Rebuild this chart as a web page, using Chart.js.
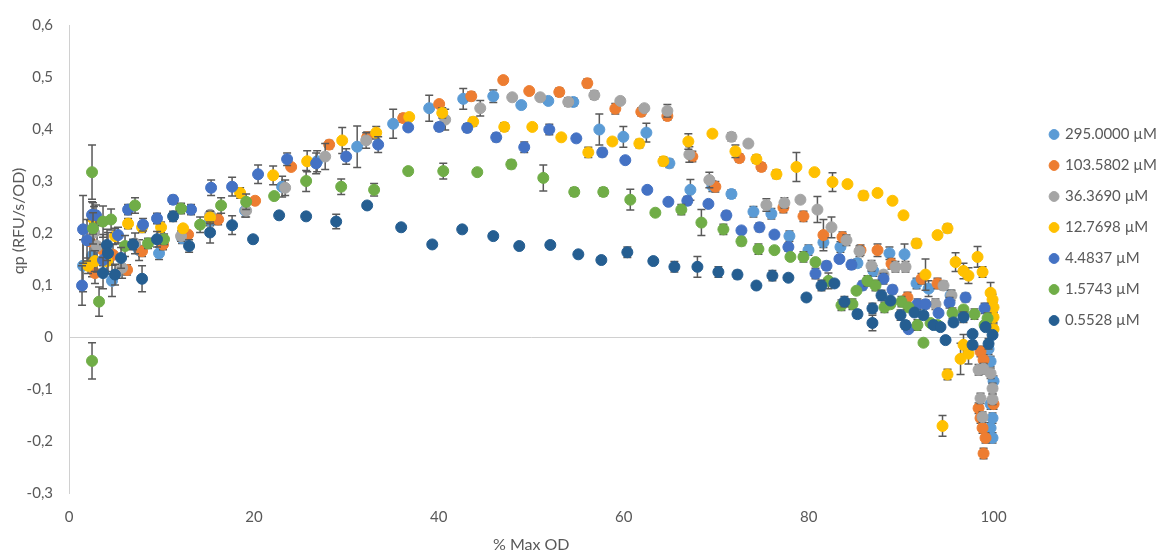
<!DOCTYPE html>
<html>
<head>
<meta charset="utf-8">
<script src="https://cdn.jsdelivr.net/npm/chart.js@4.4.1/dist/chart.umd.min.js"></script>
<style>
  html, body { margin: 0; padding: 0; background: #ffffff; }
</style>
</head>
<body>
<canvas id="mychart" width="1164" height="554"></canvas>
<script>
// each point: [% max OD, qp, error]
const s295 = [[1.52,0.137,0.05],[2.49,0.156,0.04],[4.65,0.108,0.03],[7.58,0.167,0.02],[9.74,0.161,0.012],[12.23,0.190,0.01],[15.26,0.224,0.01],[19.05,0.243,0.012],[23.05,0.289,0.02],[26.84,0.338,0.02],[31.17,0.366,0.04],[35.06,0.410,0.028],[38.96,0.440,0.025],[42.64,0.458,0.02],[45.89,0.463,0.012],[48.92,0.446,0],[51.84,0.454,0],[54.55,0.452,0.008],[57.36,0.399,0.03],[59.96,0.385,0.02],[62.45,0.393,0.018],[64.94,0.334,0.008],[67.21,0.283,0.02],[69.59,0.290,0.01],[71.65,0.275,0.008],[74.03,0.241,0.01],[75.97,0.237,0.01],[77.92,0.194,0.01],[79.98,0.167,0.01],[81.6,0.182,0.01],[83.44,0.173,0.01],[85.28,0.142,0.008],[87.01,0.127,0.01],[88.74,0.161,0.012],[90.37,0.159,0.02],[91.67,0.103,0.01],[92.97,0.093,0.015],[95.35,0.080,0.01],[99.46,-0.023,0.01],[99.68,-0.047,0.01],[100,-0.085,0.01],[99.68,-0.129,0.01],[99.89,-0.156,0.01],[99.68,-0.175,0.01],[99.89,-0.194,0.01]];
const s103 = [[2.27,0.184,0.04],[2.81,0.123,0.02],[3.68,0.167,0.03],[4.76,0.158,0.02],[6.28,0.129,0.01],[7.90,0.165,0.01],[10.17,0.178,0.01],[12.88,0.197,0],[16.13,0.226,0.01],[20.13,0.262,0],[24.03,0.327,0],[28.14,0.370,0.008],[32.25,0.384,0.01],[36.15,0.421,0.008],[40.04,0.448,0],[43.51,0.463,0.008],[46.97,0.494,0.005],[49.78,0.473,0],[53.03,0.471,0.008],[56.06,0.488,0.008],[59.09,0.439,0.01],[61.9,0.433,0.008],[64.72,0.425,0.008],[67.42,0.347,0.01],[69.91,0.289,0.01],[72.51,0.344,0.008],[74.89,0.327,0.008],[77.27,0.249,0.01],[79.44,0.232,0.01],[81.6,0.196,0.03],[83.66,0.192,0.01],[85.61,0.167,0.01],[87.45,0.167,0.012],[88.96,0.141,0.01],[90.69,0.076,0.01],[92.21,0.112,0.01],[93.94,0.103,0.01],[98.59,-0.028,0.01],[98.92,-0.044,0.01],[98.38,-0.137,0.01],[98.59,-0.156,0.01],[98.81,-0.175,0.01],[99.13,-0.194,0.01],[100,-0.129,0.01],[98.92,-0.224,0.01]];
const s36 = [[2.71,0.201,0.05],[3.03,0.175,0.05],[5.74,0.133,0.02],[7.14,0.180,0.02],[12.12,0.194,0.01],[15.26,0.235,0.008],[19.16,0.243,0.012],[23.38,0.287,0.015],[27.71,0.347,0.025],[32.14,0.378,0.015],[40.69,0.418,0.02],[44.48,0.440,0.015],[47.94,0.461,0],[50.97,0.461,0],[54.0,0.452,0.008],[56.82,0.465,0.008],[59.63,0.454,0],[62.23,0.440,0],[64.72,0.435,0.012],[67.1,0.351,0.015],[69.26,0.302,0.015],[71.65,0.385,0.008],[73.48,0.372,0.005],[75.43,0.254,0.012],[77.38,0.258,0.01],[79.11,0.264,0],[80.95,0.245,0.025],[82.47,0.211,0.02],[84.09,0.186,0.01],[85.5,0.165,0.01],[86.8,0.137,0.01],[88.1,0.120,0],[89.39,0.135,0.01],[90.48,0.135,0.01],[93.72,0.063,0.01],[94.59,0.099,0.008],[95.45,0.080,0.01],[98.38,-0.063,0.01],[98.92,-0.061,0.01],[99.68,-0.070,0.01],[99.89,-0.099,0.01],[98.59,-0.118,0.01],[99.89,-0.120,0.01],[98.81,-0.154,0.01]];
const s12 = [[2.06,0.137,0.015],[2.60,0.228,0.03],[2.81,0.146,0.02],[4.11,0.146,0.02],[4.98,0.194,0.015],[6.39,0.218,0.01],[7.90,0.211,0.01],[9.96,0.211,0.01],[12.34,0.209,0],[15.26,0.230,0.012],[18.51,0.277,0.01],[22.08,0.311,0.018],[25.76,0.338,0.02],[29.55,0.378,0.025],[33.23,0.393,0.012],[36.80,0.423,0.005],[40.37,0.431,0.01],[43.72,0.414,0.008],[47.08,0.404,0.008],[50.11,0.404,0],[53.25,0.384,0],[56.17,0.355,0.01],[58.77,0.376,0],[61.69,0.372,0.008],[64.29,0.338,0.008],[66.99,0.376,0.015],[69.59,0.391,0],[72.08,0.357,0.012],[74.35,0.342,0.008],[76.52,0.313,0.008],[78.68,0.327,0.028],[80.63,0.317,0],[82.58,0.298,0.018],[84.2,0.294,0],[85.93,0.272,0.008],[87.45,0.277,0],[89.07,0.262,0],[90.26,0.234,0.005],[91.67,0.180,0.008],[92.64,0.120,0.03],[93.94,0.196,0.005],[95.02,0.209,0.008],[95.89,0.144,0.018],[96.75,0.127,0.015],[97.29,0.118,0.015],[98.27,0.154,0.02],[98.81,0.125,0.01],[99.68,0.085,0.02],[99.89,0.072,0.01],[100,0.057,0.01],[100,0.038,0.01],[100,0.015,0.01],[96.75,-0.015,0.02],[97.29,-0.032,0.02],[96.43,-0.042,0.03],[95.02,-0.072,0.01],[94.48,-0.171,0.02]];
const s4 = [[1.41,0.099,0.038],[1.52,0.207,0.065],[1.95,0.186,0.04],[2.49,0.235,0.025],[2.92,0.234,0.02],[3.68,0.148,0.03],[5.30,0.196,0.015],[6.39,0.245,0.01],[8.01,0.216,0.012],[9.52,0.228,0.01],[11.26,0.264,0.008],[13.2,0.245,0.01],[15.37,0.287,0.015],[17.64,0.289,0.018],[20.45,0.313,0.018],[23.59,0.342,0.012],[26.73,0.334,0.02],[29.98,0.347,0.015],[33.44,0.370,0.015],[36.69,0.403,0],[40.04,0.404,0.008],[43.07,0.402,0.008],[46.21,0.384,0.008],[49.24,0.365,0.01],[51.95,0.399,0.01],[54.87,0.382,0.005],[57.68,0.355,0.008],[60.17,0.340,0],[62.55,0.283,0.005],[64.83,0.260,0.005],[66.88,0.262,0.008],[69.16,0.256,0],[71.1,0.234,0.008],[72.73,0.205,0],[74.68,0.211,0.008],[76.3,0.197,0.005],[77.81,0.173,0.008],[80.74,0.122,0.01],[81.93,0.137,0.008],[83.33,0.150,0.005],[84.63,0.139,0.008],[85.82,0.099,0.008],[88.1,0.112,0.01],[89.07,0.091,0.008],[90.8,0.015,0.005],[91.77,0.063,0.01],[92.64,0.063,0.008],[94.05,0.046,0],[95.24,0.066,0.01],[96.75,0.042,0.008],[96.97,0.076,0.008],[99.03,0.055,0.01]];
const s1 = [[2.49,0.317,0.052],[2.49,-0.046,0.035],[3.25,0.068,0.028],[2.60,0.209,0.03],[3.68,0.222,0.03],[4.55,0.226,0.02],[6.06,0.175,0.02],[7.14,0.253,0.015],[8.55,0.180,0.01],[10.28,0.188,0.01],[12.12,0.247,0.01],[14.18,0.216,0.015],[16.45,0.253,0.015],[19.16,0.260,0.015],[22.19,0.271,0],[25.65,0.300,0.02],[29.44,0.289,0.015],[33.0,0.283,0.012],[36.69,0.319,0],[40.48,0.319,0.015],[44.16,0.317,0],[47.84,0.332,0.008],[51.3,0.306,0.025],[54.65,0.279,0.008],[57.79,0.279,0.008],[60.71,0.264,0.02],[63.42,0.239,0],[66.23,0.245,0.01],[68.4,0.220,0.025],[70.78,0.207,0.01],[72.73,0.184,0.008],[74.57,0.169,0.01],[76.3,0.167,0],[78.03,0.154,0],[79.44,0.154,0.01],[80.74,0.144,0],[82.14,0.108,0.015],[83.55,0.061,0.01],[84.74,0.063,0.01],[85.17,0.089,0],[86.36,0.108,0.01],[87.23,0.099,0.01],[88.2,0.057,0.01],[88.85,0.063,0],[90.04,0.068,0.01],[90.8,0.057,0],[91.77,0.023,0.01],[92.42,-0.011,0],[93.18,0.027,0],[93.94,0.023,0],[95.56,0.046,0.01],[96.75,0.053,0],[97.94,0.044,0.01],[99.03,0.023,0],[99.35,0.036,0.01]];
const s05 = [[3.68,0.123,0.03],[4.11,0.177,0.03],[4.22,0.161,0.04],[4.98,0.120,0.02],[5.63,0.152,0.02],[6.93,0.178,0.01],[7.90,0.112,0.025],[9.52,0.188,0.015],[11.26,0.232,0.01],[12.99,0.175,0.012],[15.26,0.201,0.02],[17.64,0.215,0.018],[19.91,0.188,0],[22.73,0.234,0],[25.65,0.232,0],[28.9,0.222,0.014],[32.25,0.253,0],[35.93,0.211,0],[39.29,0.178,0],[42.53,0.207,0],[45.89,0.194,0],[48.70,0.175,0],[52.06,0.177,0.005],[55.09,0.159,0],[57.58,0.148,0],[60.39,0.163,0.01],[63.2,0.146,0],[65.48,0.135,0.01],[67.97,0.135,0.02],[70.24,0.125,0.01],[72.3,0.120,0.008],[74.35,0.099,0],[76.08,0.118,0.01],[77.81,0.114,0],[79.76,0.076,0],[81.39,0.099,0.01],[82.79,0.103,0],[83.87,0.068,0.01],[85.28,0.044,0.008],[86.9,0.055,0.01],[86.9,0.027,0.015],[87.88,0.080,0.01],[88.85,0.070,0],[89.94,0.042,0.01],[90.48,0.023,0.008],[91.45,0.047,0],[92.42,0.042,0],[93.5,0.023,0],[94.26,0.019,0],[94.81,-0.006,0],[95.67,0.028,0],[96.75,0.038,0.01],[97.73,0.006,0],[97.73,-0.015,0.008],[99.13,0.019,0],[99.46,-0.013,0.01],[99.89,0.004,0]];

const seriesLabels = ['295.0000 µM', '103.5802 µM', '36.3690 µM', '12.7698 µM', '4.4837 µM', '1.5743 µM', '0.5528 µM'];
const seriesColors = ['#5B9BD5', '#ED7D31', '#A5A5A5', '#FFC000', '#4472C4', '#70AD47', '#255E91'];
const allSeries = [s295, s103, s36, s12, s4, s1, s05];

const gray = '#595959';
const axisLine = '#d0d0d0';
const fontFamily = "Lato, 'Liberation Sans', sans-serif";

Chart.defaults.font.family = fontFamily;
Chart.defaults.font.size = 15;
Chart.defaults.color = gray;

// vertical error bars, drawn just under each series' markers
const errorBars = {
    id: 'errorBars',
    beforeDatasetDraw(chart, args) {
        const ds = chart.data.datasets[args.index];
        const yScale = chart.scales.y;
        const ctx = chart.ctx;
        ctx.save();
        ctx.strokeStyle = gray;
        ctx.lineWidth = 1.5;
        args.meta.data.forEach((pt, i) => {
            const e = ds.errors[i];
            if (!e) return;
            const v = ds.data[i].y;
            const top = yScale.getPixelForValue(v + e);
            const bot = yScale.getPixelForValue(v - e);
            ctx.beginPath();
            ctx.moveTo(pt.x, top); ctx.lineTo(pt.x, bot);
            ctx.moveTo(pt.x - 4, top); ctx.lineTo(pt.x + 4, top);
            ctx.moveTo(pt.x - 4, bot); ctx.lineTo(pt.x + 4, bot);
            ctx.stroke();
        });
        ctx.restore();
    }
};

// y axis title, sits a bit above the middle of the axis like in the original
const yTitle = {
    id: 'yTitle',
    afterDraw(chart) {
        const y = chart.scales.y;
        const c = chart.ctx;
        c.save();
        c.translate(y.left + 19, (y.top + y.bottom) / 2 - 38);
        c.rotate(-Math.PI / 2);
        c.font = '16px ' + fontFamily;
        c.fillStyle = gray;
        c.textAlign = 'center';
        c.textBaseline = 'middle';
        c.fillText('qp (RFU/s/OD)', 0, 0);
        c.restore();
    }
};

const isZero = v => Math.abs(v) < 1e-9;

const ctx = document.getElementById('mychart').getContext('2d');
const mychart = new Chart(ctx, {
    type: 'scatter',
    data: {
        datasets: allSeries.map((s, i) => ({
            label: seriesLabels[i],
            data: s.map(p => ({x: p[0], y: p[1]})),
            errors: s.map(p => p[2]),
            backgroundColor: seriesColors[i],
            borderColor: seriesColors[i],
            borderWidth: 1,
            pointRadius: 5.5,
            pointHoverRadius: 5.5,
            order: allSeries.length - i,
            clip: false
        }))
    },
    options: {
        responsive: false,
        animation: false,
        layout: { padding: { top: 19, right: -3, bottom: 0, left: 0 } },
        scales: {
            x: {
                type: 'linear',
                min: 0,
                max: 100,
                grid: { display: false, drawTicks: false },
                border: { display: false },
                ticks: { stepSize: 20, padding: 15 },
                title: { display: true, text: '% Max OD', font: { size: 16 }, padding: { top: 0, bottom: 0 } },
                afterFit(scale) { scale.height = 61; }
            },
            y: {
                min: -0.3,
                max: 0.6,
                grid: {
                    drawTicks: false,
                    color: c => isZero(c.tick.value) ? axisLine : 'rgba(0,0,0,0)',
                    lineWidth: 1
                },
                border: { display: true, color: axisLine, width: 1 },
                ticks: {
                    stepSize: 0.1,
                    padding: 16,
                    callback: v => isZero(v) ? '0' : v.toFixed(1).replace('.', ',')
                },
                title: { display: false },
                afterFit(scale) { scale.width = 69; }
            },
            spacer: {
                type: 'linear',
                position: 'right',
                display: true,
                grid: { display: false },
                border: { display: false },
                ticks: { display: false },
                afterFit(scale) { scale.width = 41; }
            }
        },
        plugins: {
            tooltip: { enabled: false },
            legend: {
                position: 'right',
                align: 'start',
                title: { display: true, text: '', padding: { top: 82, bottom: 0 }, font: { size: 10, lineHeight: 1 } },
                labels: {
                    usePointStyle: true,
                    pointStyle: 'circle',
                    boxWidth: 7,
                    boxHeight: 7,
                    padding: 16,
                    color: gray,
                    font: { size: 15 },
                    sort: (a, b) => a.datasetIndex - b.datasetIndex
                }
            }
        }
    },
    plugins: [errorBars, yTitle]
});
</script>
</body>
</html>
